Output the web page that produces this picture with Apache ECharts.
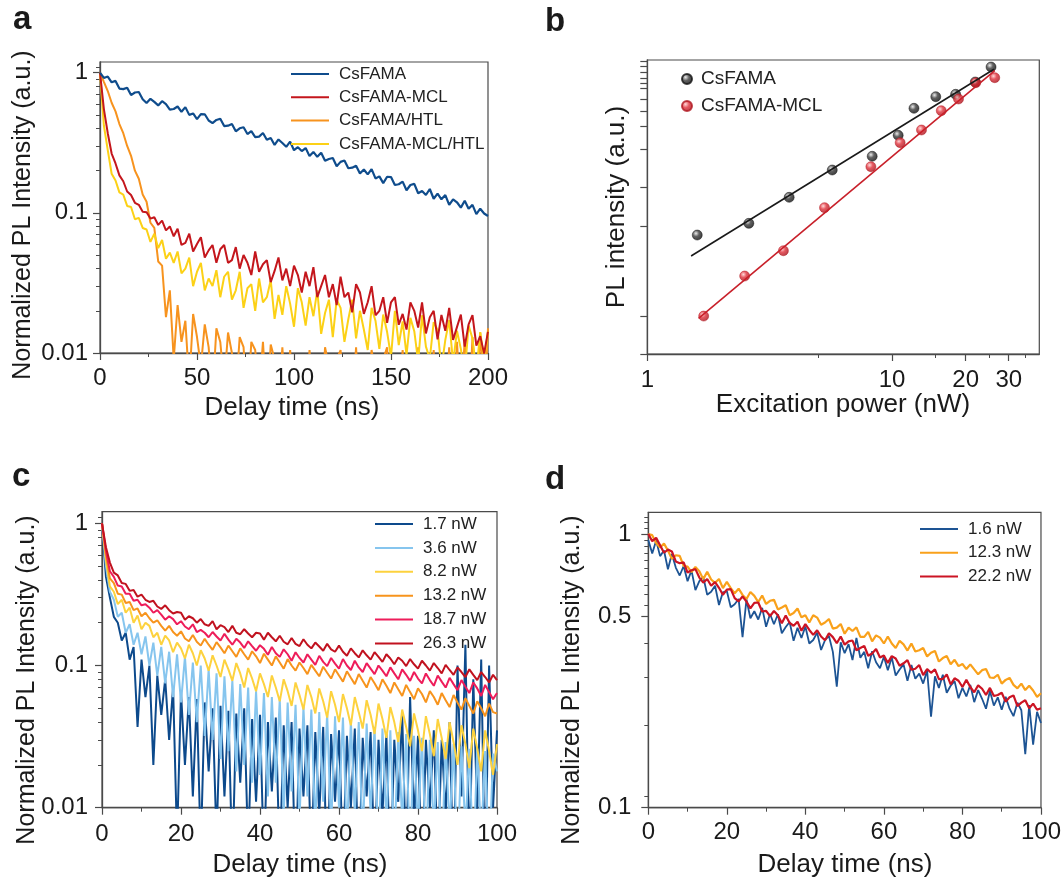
<!DOCTYPE html>
<html><head><meta charset="utf-8">
<script src="https://cdn.jsdelivr.net/npm/echarts@6/dist/echarts.min.js"></script>
<style>
html,body{margin:0;padding:0;background:#fff;}
#wrap{position:relative;width:1064px;height:880px;background:#fff;}
.p{position:absolute;width:532px;height:440px;}
</style></head><body>
<div id="wrap">
<div class="p" id="pa" style="left:0;top:0"></div>
<div class="p" id="pb" style="left:532px;top:0"></div>
<div class="p" id="pc" style="left:0;top:440px"></div>
<div class="p" id="pd" style="left:532px;top:440px"></div>
</div>
<script>
// ---------- Panel a data (delay time 0..200 ns, 2 ns steps) ----------
const tA = [0,2,4,6,8,10,12,14,16,18,20,22,24,26,28,30,32,34,36,38,40,42,44,46,48,50,52,54,56,58,60,62,64,66,68,70,72,74,76,78,80,82,84,86,88,90,92,94,96,98,100,102,104,106,108,110,112,114,116,118,120,122,124,126,128,130,132,134,136,138,140,142,144,146,148,150,152,154,156,158,160,162,164,166,168,170,172,174,176,178,180,182,184,186,188,190,192,194,196,198,200];
const aCsFAMA = [1.00,0.917,0.939,0.854,0.874,0.770,0.763,0.780,0.692,0.722,
0.728,0.647,0.608,0.651,0.619,0.584,0.626,0.597,0.545,0.551,
0.574,0.526,0.568,0.500,0.512,0.466,0.506,0.505,0.456,0.437,
0.460,0.469,0.416,0.419,0.431,0.382,0.401,0.408,0.365,0.383,
0.347,0.350,0.371,0.332,0.342,0.305,0.334,0.315,0.296,0.322,
0.280,0.294,0.276,0.290,0.254,0.272,0.251,0.268,0.235,0.242,
0.246,0.215,0.231,0.236,0.208,0.210,0.217,0.191,0.204,0.188,
0.205,0.176,0.182,0.163,0.181,0.180,0.158,0.160,0.167,0.145,
0.158,0.161,0.138,0.143,0.134,0.148,0.126,0.137,0.125,0.134,
0.114,0.125,0.119,0.109,0.122,0.107,0.114,0.098,0.107,0.099,0.095];
const aMCL = [1.0,0.55,0.37,0.265,0.225,0.185,0.168,0.142,0.134,0.118,0.114,0.102,0.101,0.091,0.093,0.082,0.088,0.075,0.080,0.068,
0.077,0.059,0.061,0.071,0.053,0.060,0.067,0.048,0.054,0.059,
0.044,0.055,0.059,0.044,0.046,0.057,0.040,0.050,0.044,0.036,
0.053,0.038,0.043,0.046,0.032,0.0385,0.048,0.033,0.040,0.030,
0.042,0.036,0.027,0.038,0.030,0.041,0.025,0.030,0.036,0.025,
0.031,0.022,0.035,0.025,0.027,0.0195,0.031,0.027,0.019,0.023,
0.030,0.0186,0.020,0.025,0.0164,0.023,0.025,0.0159,0.019,0.0147,
0.023,0.020,0.0152,0.023,0.0138,0.018,0.020,0.0125,0.0187,0.0144,
0.021,0.0124,0.0153,0.0188,0.0111,0.016,0.0186,0.0113,0.0132,0.0099,0.0142];
const aHTL = [1.0,0.86,0.74,0.61,0.53,0.43,0.37,0.30,0.255,0.20,0.175,0.135,0.12,0.085,0.078,0.045,0.042,0.018,0.028,0.009,
0.022,0.012,0.017,0.006,0.019,0.013,0.008,0.016,0.011,0.005,0.015,0.012,0.006,0.014,0.010,0.005,0.013,0.011,0.004,0.012,0.0105,0.005,0.012,0.004,0.0115,0.009,0.004,0.011,0.004,0.0105,0.004,
0.004,0.009,0.003,0.0105,0.004,0.006,0.003,0.011,0.008,0.003,0.009,0.0105,0.003,0.005,0.004,0.011,0.003,0.009,0.004,0.0105,0.007,0.003,0.009,0.011,0.003,0.005,0.004,0.0105,0.003,0.009,0.004,0.011,0.003,0.008,0.004,0.0105,0.003,0.009,0.004,0.011,0.003,0.012,0.004,0.0125,0.003,0.013,0.005,0.014,0.004,0.015];
const aMCLHTL = [1.0,0.42,0.28,0.19,0.17,0.14,0.135,0.112,0.11,0.09,0.092,0.078,0.076,0.062,0.071,0.056,0.064,0.047,0.052,0.044,
0.053,0.037,0.040,0.048,0.030,0.038,0.044,0.028,0.034,0.030,
0.039,0.025,0.035,0.038,0.024,0.028,0.038,0.021,0.029,0.031,
0.020,0.034,0.023,0.025,0.033,0.0175,0.026,0.0187,0.030,0.0225,
0.0154,0.029,0.023,0.0157,0.025,0.0183,0.028,0.0137,0.0193,0.024,
0.013,0.024,0.021,0.012,0.0174,0.024,0.0127,0.020,0.0147,0.0105,
0.021,0.017,0.0107,0.0188,0.0141,0.0094,0.020,0.0114,0.0168,0.0097,
0.0178,0.0143,0.0087,0.0186,0.0111,0.0091,0.0166,0.0146,0.0078,0.0124,
0.0172,0.0085,0.0144,0.0107,0.0071,0.0157,0.0127,0.0074,0.0141,0.0089,0.0143];

// ---------- Panel b data ----------
const bPowerA = [1.6,2.6,3.8,5.7,8.3,10.6,12.3,15.1,18.2,21.9,25.4];
const bPLA = [621,743,1108,1685,2080,2871,4345,5192,5387,6506,8191];
const bPowerM = [1.7,2.5,3.6,5.3,8.2,10.8,13.2,15.9,18.7,22.0,26.3];
const bPLM = [179,331,488,945,1773,2563,3114,4188,5012,6436,6950];
const bFitAx = [1.51,26.1], bFitAy = [450,7907];
const bFitMx = [1.62,26.3], bFitMy = [173,7740];
const bXTicks = [1,10,20,30], bXMinor = [5,15,25,35], bXLabels = [1,10,20,30];
const bYTicks = [100,179,707,1285,2310,3285,4169,5012,5877,6353,6900,7550,8241,8913];

// ---------- Panel c data (0..100 ns, 1 ns steps) ----------
const tC = [0,1,2,3,4,5,6,7,8,9,10,11,12,13,14,15,16,17,18,19,20,21,22,23,24,25,26,27,28,29,30,31,32,33,34,35,36,37,38,39,40,41,42,43,44,45,46,47,48,49,50,51,52,53,54,55,56,57,58,59,60,61,62,63,64,65,66,67,68,69,70,71,72,73,74,75,76,77,78,79,80,81,82,83,84,85,86,87,88,89,90,91,92,93,94,95,96,97,98,99,100];
const c17 = [1.0,0.42,0.3,0.22,0.2,0.15,0.17,0.11,0.135,0.037,
0.11,0.06,0.1,0.02,0.085,0.045,0.08,0.03,0.07,0.006,
0.065,0.02,0.06,0.012,0.058,0.005,0.055,0.018,0.05,0.006,
0.052,0.012,0.048,0.004,0.046,0.015,0.05,0.005,0.042,0.011,
0.045,0.004,0.04,0.013,0.043,0.004,0.038,0.01,0.04,0.003,
0.036,0.012,0.038,0.004,0.034,0.009,0.037,0.003,0.033,0.011,
0.035,0.004,0.032,0.01,0.036,0.003,0.031,0.012,0.034,0.004,
0.03,0.009,0.033,0.003,0.03,0.011,0.045,0.004,0.06,0.008,
0.032,0.003,0.03,0.01,0.035,0.004,0.03,0.009,0.04,0.003,
0.1,0.012,0.14,0.004,0.08,0.009,0.11,0.003,0.1,0.01,0.035];
const c36 = [1.0,0.5,0.33,0.29,0.22,0.235,0.17,0.195,0.14,0.17,
0.12,0.16,0.1,0.145,0.085,0.135,0.075,0.125,0.06,0.12,
0.055,0.115,0.045,0.105,0.04,0.1,0.032,0.094,0.03,0.088,
0.022,0.084,0.025,0.078,0.018,0.074,0.02,0.07,0.015,0.066,
0.017,0.064,0.012,0.06,0.015,0.058,0.009,0.055,0.013,0.053,
0.008,0.051,0.012,0.049,0.007,0.047,0.011,0.046,0.007,0.044,
0.01,0.043,0.006,0.041,0.009,0.04,0.006,0.039,0.009,0.037,
0.005,0.036,0.008,0.035,0.005,0.034,0.008,0.033,0.005,0.032,
0.007,0.031,0.005,0.03,0.007,0.029,0.004,0.029,0.007,0.028,
0.004,0.027,0.007,0.026,0.004,0.026,0.006,0.025,0.004,0.024,0.018];
const c82 = [1.0,0.55,0.36,0.33,0.27,0.29,0.235,0.255,0.2,0.225,
0.18,0.2,0.19,0.158,0.17,0.14,0.162,0.15,0.124,0.145,
0.132,0.112,0.14,0.122,0.1,0.128,0.112,0.092,0.118,0.1,
0.083,0.11,0.094,0.078,0.104,0.088,0.07,0.096,0.081,0.066,
0.088,0.074,0.06,0.085,0.07,0.056,0.08,0.066,0.052,0.076,
0.062,0.049,0.073,0.06,0.046,0.069,0.056,0.043,0.066,0.053,
0.04,0.063,0.05,0.038,0.06,0.047,0.036,0.057,0.045,0.033,
0.054,0.042,0.031,0.051,0.04,0.029,0.049,0.037,0.027,0.046,
0.035,0.025,0.044,0.033,0.023,0.042,0.031,0.022,0.04,0.029,
0.02,0.038,0.028,0.019,0.036,0.026,0.018,0.035,0.025,0.017,0.028];
const c132 = [1.0,0.6,0.41,0.38,0.32,0.315,0.275,0.28,0.245,0.252,
0.222,0.235,0.215,0.2,0.208,0.19,0.176,0.19,0.172,0.162,
0.174,0.155,0.148,0.164,0.147,0.138,0.154,0.14,0.129,0.146,
0.134,0.122,0.138,0.126,0.115,0.132,0.12,0.11,0.126,0.116,
0.104,0.121,0.11,0.1,0.116,0.105,0.095,0.111,0.1,0.092,
0.105,0.096,0.087,0.101,0.092,0.084,0.098,0.089,0.081,0.094,
0.085,0.077,0.091,0.082,0.074,0.087,0.078,0.07,0.083,0.075,
0.067,0.08,0.072,0.064,0.076,0.068,0.061,0.073,0.065,0.058,
0.069,0.063,0.055,0.066,0.06,0.053,0.064,0.057,0.051,0.062,
0.055,0.049,0.059,0.052,0.046,0.056,0.05,0.044,0.054,0.047,0.046];
const c187 = [1.0,0.64,0.46,0.42,0.365,0.36,0.32,0.32,0.285,0.29,
0.265,0.27,0.255,0.235,0.245,0.228,0.21,0.222,0.212,0.195,
0.205,0.188,0.18,0.195,0.172,0.178,0.17,0.158,0.172,0.16,
0.15,0.167,0.152,0.14,0.154,0.145,0.133,0.148,0.137,0.127,
0.139,0.131,0.119,0.135,0.122,0.115,0.13,0.12,0.108,0.124,
0.113,0.105,0.12,0.11,0.101,0.117,0.106,0.099,0.113,0.103,
0.095,0.111,0.1,0.093,0.108,0.097,0.09,0.104,0.095,0.087,
0.1,0.092,0.084,0.097,0.088,0.08,0.094,0.086,0.078,0.09,
0.081,0.075,0.088,0.079,0.072,0.085,0.077,0.07,0.082,0.074,
0.067,0.079,0.071,0.064,0.076,0.069,0.061,0.073,0.065,0.058,0.064];
const c263 = [1.0,0.68,0.53,0.45,0.43,0.38,0.375,0.335,0.34,0.305,
0.315,0.29,0.28,0.285,0.26,0.25,0.265,0.245,0.232,0.238,
0.235,0.21,0.222,0.215,0.2,0.212,0.195,0.19,0.205,0.18,
0.192,0.186,0.172,0.19,0.17,0.166,0.18,0.168,0.158,0.17,
0.168,0.152,0.17,0.158,0.148,0.162,0.147,0.141,0.156,0.142,
0.137,0.153,0.14,0.132,0.145,0.136,0.127,0.142,0.13,0.125,
0.138,0.125,0.117,0.132,0.122,0.114,0.128,0.118,0.11,0.124,
0.115,0.106,0.12,0.112,0.102,0.114,0.108,0.099,0.111,0.102,
0.095,0.108,0.1,0.092,0.104,0.096,0.088,0.101,0.093,0.086,
0.097,0.09,0.083,0.094,0.086,0.079,0.09,0.083,0.076,0.086,0.079];

// ---------- Panel d data (0..100 ns, 1 ns steps) ----------
const d16 = [0.95,0.848,0.947,0.83,0.87,0.743,0.845,0.754,0.705,0.764,
0.672,0.736,0.624,0.672,0.697,0.6,0.615,0.647,0.55,0.612,
0.619,0.54,0.554,0.579,0.42,0.576,0.492,0.522,0.487,0.537,
0.458,0.51,0.468,0.509,0.434,0.457,0.477,0.407,0.454,0.417,
0.459,0.398,0.41,0.436,0.377,0.409,0.424,0.371,0.277,0.402,
0.367,0.396,0.346,0.417,0.353,0.371,0.323,0.373,0.34,0.323,
0.356,0.318,0.354,0.304,0.32,0.334,0.291,0.332,0.296,0.309,
0.284,0.317,0.215,0.302,0.274,0.306,0.263,0.279,0.29,0.251,
0.274,0.255,0.281,0.243,0.269,0.25,0.23,0.267,0.236,0.253,
0.228,0.254,0.23,0.216,0.242,0.227,0.157,0.237,0.17,0.224,0.204];
const d123 = [1.0,0.99,0.926,0.892,0.922,0.87,0.811,0.836,0.832,0.764,
0.76,0.726,0.758,0.731,0.684,0.728,0.682,0.663,0.685,0.634,
0.668,0.634,0.607,0.631,0.599,0.579,0.614,0.594,0.564,0.596,
0.555,0.57,0.575,0.53,0.539,0.549,0.505,0.514,0.534,0.496,
0.505,0.475,0.505,0.495,0.466,0.475,0.489,0.451,0.455,0.469,
0.432,0.455,0.442,0.456,0.421,0.421,0.439,0.405,0.426,0.418,
0.398,0.422,0.398,0.383,0.407,0.395,0.375,0.398,0.372,0.376,
0.383,0.357,0.368,0.374,0.342,0.352,0.358,0.334,0.347,0.329,
0.335,0.321,0.334,0.32,0.307,0.318,0.321,0.299,0.298,0.306,
0.284,0.293,0.298,0.281,0.273,0.284,0.269,0.279,0.268,0.254,0.262];
const d222 = [1.0,0.941,0.968,0.91,0.854,0.877,0.863,0.794,0.782,0.788,
0.723,0.737,0.744,0.693,0.664,0.685,0.647,0.667,0.636,0.60,
0.626,0.629,0.583,0.567,0.592,0.566,0.535,0.56,0.562,0.521,
0.524,0.501,0.523,0.505,0.472,0.504,0.473,0.462,0.478,0.443,
0.469,0.446,0.428,0.445,0.422,0.409,0.434,0.42,0.399,0.422,
0.394,0.405,0.408,0.376,0.383,0.39,0.359,0.366,0.38,0.354,
0.36,0.338,0.358,0.351,0.33,0.337,0.346,0.319,0.322,0.332,
0.305,0.321,0.311,0.32,0.295,0.295,0.307,0.282,0.297,0.291,
0.276,0.293,0.276,0.264,0.28,0.272,0.258,0.274,0.256,0.258,
0.263,0.244,0.253,0.257,0.235,0.242,0.247,0.231,0.24,0.228,0.231];

// ---------- tick values ----------
const yMajor2 = [0.01,0.1,1];
const yMinor2 = [0.02,0.03,0.04,0.05,0.06,0.07,0.08,0.09,0.2,0.3,0.4,0.5,0.6,0.7,0.8,0.9,1.1];
const dMajor = [0.1,0.5,1];
const dMinor = [0.11,0.2,0.3,0.4,0.55,0.6,0.65,0.7,0.75,0.8,0.85,0.9,0.95,1.05,1.1,1.15];

// ---------- styling helpers ----------
const FONT = "'Liberation Sans', Arial, Helvetica, sans-serif";
const AX = '#4a4a4a';
const TXT = '#1a1a1a';
function pairs(xs, ys){ return xs.map((x,i)=>[x, ys[i]]); }
function logAxisPair(pos, min, max, major, minor, labels, margin){
  const base = {type:'log', logBase:10, min, max, position:pos, splitLine:{show:false}, minorSplitLine:{show:false}};
  return [
    Object.assign({}, base, {
      axisLine:{show:true, onZero:false, lineStyle:{color:AX, width:1.3}},
      axisTick:{show:true, length:7, customValues:major, lineStyle:{color:AX, width:1.2}},
      axisLabel: labels ? {show:true, customValues:labels, formatter:(v)=>String(+(+v).toPrecision(6)), fontSize:24, color:TXT, fontFamily:FONT, margin} : {show:false}
    }),
    Object.assign({}, base, {
      axisLine:{show:false},
      axisTick:{show:true, length:4, customValues:minor, lineStyle:{color:AX, width:1}},
      axisLabel:{show:false}
    })
  ];
}
function linX(max, interval, margin){
  return {type:'value', min:0, max, interval, position:'bottom',
    axisLine:{show:true, onZero:false, lineStyle:{color:AX, width:1.3}},
    axisTick:{show:true, length:7, lineStyle:{color:AX, width:1.2}},
    minorTick:{show:true, splitNumber:2, length:4, lineStyle:{color:AX, width:1}},
    axisLabel:{fontSize:24, color:TXT, fontFamily:FONT, margin},
    splitLine:{show:false}, minorSplitLine:{show:false}};
}
function txt(x, y, text, size, o){
  o = o || {};
  return {type:'text', x, y, rotation:o.rot||0, silent:true, z:100,
    style:{text, fontSize:size, fontFamily:FONT, fontWeight:o.bold?'bold':'normal', fill:TXT,
      align:o.align||'center', verticalAlign:'middle', textAlign:o.align||'center', textVerticalAlign:'middle'}};
}
function lineSeries(name, xs, ys, color, width){
  return {name, type:'line', data:pairs(xs, ys), showSymbol:false, symbol:'none', clip:true,
    lineStyle:{color, width:width||1.8}, itemStyle:{color}, animation:false, silent:true};
}
function lineLegend(left, top, names, gap){
  return {orient:'vertical', left, top, icon:'rect', itemWidth:38, itemHeight:2, itemGap:gap,
    selectedMode:false, data:names,
    textStyle:{fontSize:17, lineHeight:20, color:'#222', fontFamily:FONT, padding:[0,0,0,5]}};
}
const grid = (l,t,w,h)=>({left:l, top:t, width:w, height:h, show:true, borderColor:AX, borderWidth:1.2, backgroundColor:'rgba(0,0,0,0)'});

// ---------- Panel a ----------
const chA = echarts.init(document.getElementById('pa'), null, {renderer:'canvas'});
chA.setOption({
  animation:false,
  grid: grid(100, 62, 388, 291),
  xAxis: linX(200, 50, 13),
  yAxis: logAxisPair('left', 0.01, 1.192, yMajor2, yMinor2, yMajor2, 12),
  legend: lineLegend(286, 59, ['CsFAMA','CsFAMA-MCL','CsFAMA/HTL','CsFAMA-MCL/HTL'], 3.3),
  series: [
    lineSeries('CsFAMA/HTL', tA, aHTL, '#f7931e', 2),
    lineSeries('CsFAMA-MCL/HTL', tA, aMCLHTL, '#fcd116', 2),
    lineSeries('CsFAMA-MCL', tA, aMCL, '#c4161c', 2),
    lineSeries('CsFAMA', tA, aCsFAMA, '#0f4c8c', 2.2)
  ],
  graphic: [
    txt(13, 20, 'a', 33, {bold:true, align:'left'}),
    txt(23, 215, 'Normalized PL Intensity (a.u.)', 25, {rot:Math.PI/2}),
    txt(292, 408, 'Delay time (ns)', 26)
  ]
});

// ---------- Panel b ----------
const gradK = {type:'radial', x:0.38, y:0.35, r:0.65, colorStops:[{offset:0,color:'#e8e8e8'},{offset:0.45,color:'#3a3a3a'},{offset:1,color:'#0c0c0c'}]};
const gradR = {type:'radial', x:0.38, y:0.35, r:0.65, colorStops:[{offset:0,color:'#ffd0d0'},{offset:0.45,color:'#e0303a'},{offset:1,color:'#a8101a'}]};
const chB = echarts.init(document.getElementById('pb'), null, {renderer:'canvas'});
chB.setOption({
  animation:false,
  grid: grid(115.3, 60, 392, 294),
  xAxis: logAxisPair('bottom', 1, 40, bXTicks, bXMinor, bXLabels, 14),
  yAxis: logAxisPair('left', 100, 9120, bYTicks, [], null, 8),
  legend: {orient:'vertical', left:144, top:61, itemWidth:10, itemHeight:10, itemGap:1, selectedMode:false,
    data:[{name:'CsFAMA', icon:'circle'},{name:'CsFAMA-MCL', icon:'circle'}],
    textStyle:{fontSize:19, lineHeight:26, color:'#222', fontFamily:FONT, padding:[0,0,0,4]}},
  series: [
    {name:'fitA', type:'line', data:pairs(bFitAx, bFitAy), showSymbol:false, symbol:'none', lineStyle:{color:'#1a1a1a', width:1.6}, silent:true},
    {name:'fitM', type:'line', data:pairs(bFitMx, bFitMy), showSymbol:false, symbol:'none', lineStyle:{color:'#c8202a', width:1.6}, silent:true},
    {name:'CsFAMA', type:'scatter', data:pairs(bPowerA, bPLA), symbol:'circle', symbolSize:10, itemStyle:{color:gradK, borderColor:'#111', borderWidth:0.6}},
    {name:'CsFAMA-MCL', type:'scatter', data:pairs(bPowerM, bPLM), symbol:'circle', symbolSize:10, itemStyle:{color:gradR, borderColor:'#b01820', borderWidth:0.6}}
  ],
  graphic: [
    txt(13, 22, 'b', 33, {bold:true, align:'left'}),
    txt(85, 207, 'PL intensity (a.u.)', 26, {rot:Math.PI/2}),
    txt(311, 405, 'Excitation power (nW)', 26)
  ]
});

// ---------- Panel c ----------
const chC = echarts.init(document.getElementById('pc'), null, {renderer:'canvas'});
chC.setOption({
  animation:false,
  grid: grid(102, 71.7, 395, 296),
  xAxis: linX(100, 20, 15),
  yAxis: logAxisPair('left', 0.01, 1.207, yMajor2, yMinor2, yMajor2, 14),
  legend: lineLegend(370, 69, ['1.7 nW','3.6 nW','8.2 nW','13.2 nW','18.7 nW','26.3 nW'], 3.9),
  series: [
    lineSeries('1.7 nW', tC, c17, '#0d4a8c', 2),
    lineSeries('3.6 nW', tC, c36, '#86c5ee', 2),
    lineSeries('8.2 nW', tC, c82, '#fdd23e', 2),
    lineSeries('13.2 nW', tC, c132, '#f7941d', 2),
    lineSeries('18.7 nW', tC, c187, '#ee1d5a', 2),
    lineSeries('26.3 nW', tC, c263, '#c1121f', 2)
  ],
  graphic: [
    txt(12, 37, 'c', 33, {bold:true, align:'left'}),
    txt(27, 240, 'Normalized PL Intensity (a.u.)', 25, {rot:Math.PI/2}),
    txt(300, 425, 'Delay time (ns)', 26)
  ]
});

// ---------- Panel d ----------
const chD = echarts.init(document.getElementById('pd'), null, {renderer:'canvas'});
chD.setOption({
  animation:false,
  grid: grid(116.3, 72.3, 393.4, 295.4),
  xAxis: linX(100, 20, 13),
  yAxis: logAxisPair('left', 0.1, 1.2, dMajor, dMinor, dMajor, 17),
  legend: lineLegend(383, 74, ['1.6 nW','12.3 nW','22.2 nW'], 3.8),
  series: [
    lineSeries('1.6 nW', tC, d16, '#1d5494', 1.8),
    lineSeries('12.3 nW', tC, d123, '#f9a11b', 2.2),
    lineSeries('22.2 nW', tC, d222, '#cc1424', 2.2)
  ],
  graphic: [
    txt(13, 40, 'd', 33, {bold:true, align:'left'}),
    txt(40, 240, 'Normalized PL Intensity (a.u.)', 25, {rot:Math.PI/2}),
    txt(313, 425, 'Delay time (ns)', 26)
  ]
});
</script>
</body></html>
